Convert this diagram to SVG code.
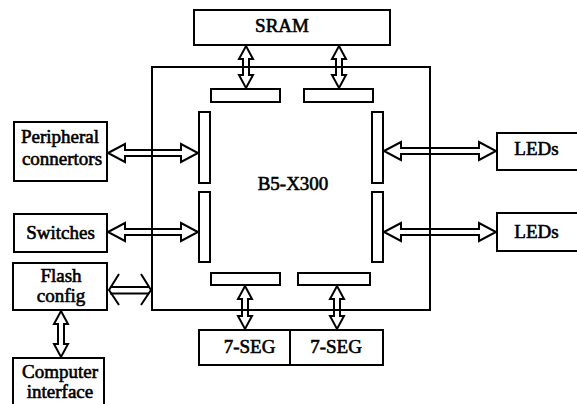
<svg xmlns="http://www.w3.org/2000/svg" width="577" height="404" viewBox="0 0 577 404">
<style>
.b{fill:none;stroke:#000;stroke-width:2}
.bar{fill:#fff;stroke:#000;stroke-width:2}
.a{fill:none;stroke:#000;stroke-width:2;stroke-linejoin:miter}
.t{font-family:"Liberation Serif","Times New Roman",serif;font-size:19px;fill:#000;stroke:#000;stroke-width:0.6;text-anchor:middle}
</style>
<rect width="577" height="404" fill="#fff"/>
<g id="connectors">
<polygon class="a" points="108,153 125,144 125,150 181,150 181,144 198,153 181,162 181,156 125,156 125,162"/>
<polygon class="a" points="108,232 125,223 125,229 181,229 181,223 198,232 181,241 181,235 125,235 125,241"/>
<polygon class="a" points="384,151 401,142 401,148 479,148 479,142 496,151 479,160 479,154 401,154 401,160"/>
<polygon class="a" points="384,232 401,223 401,229 479,229 479,223 496,232 479,241 479,235 401,235 401,241"/>
<polygon class="a" points="246,46 253,59 249,59 249,75 253,75 246,88 239,75 243,75 243,59 239,59"/>
<polygon class="a" points="339,46 346,59 342,59 342,75 346,75 339,88 332,75 336,75 336,59 332,59"/>
<polygon class="a" points="245,286 252,299 248,299 248,316 252,316 245,329 238,316 242,316 242,299 238,299"/>
<polygon class="a" points="337,286 344,299 340,299 340,316 344,316 337,329 330,316 334,316 334,299 330,299"/>
<polygon class="a" points="61,311 68,324 64,324 64,344 68,344 61,357 54,344 58,344 58,324 54,324"/>
<g class="a">
<line x1="110" y1="287" x2="149" y2="287"/>
<line x1="110" y1="293.5" x2="149" y2="293.5"/>
<polyline points="119,274 109,290 119,305"/>
<polyline points="141,274 151,290 141,305"/>
</g>
</g>
<g id="b5x300">
<rect class="b" x="152" y="67" width="278" height="243"/>
<rect class="bar" x="211" y="89" width="69" height="13"/>
<rect class="bar" x="304" y="89" width="69" height="13"/>
<rect class="bar" x="199" y="112" width="11" height="71"/>
<rect class="bar" x="199" y="192" width="11" height="70"/>
<rect class="bar" x="372" y="112" width="11" height="71"/>
<rect class="bar" x="372" y="192" width="11" height="70"/>
<rect class="bar" x="211" y="273" width="69" height="12"/>
<rect class="bar" x="298" y="273" width="72" height="12"/>
<text class="t" x="293" y="190">B5-X300</text>
</g>
<g id="sram">
<rect class="b" x="194" y="10" width="196" height="35"/>
<text class="t" x="282" y="32">SRAM</text>
</g>
<g id="peripheral">
<rect class="b" x="14" y="122" width="93" height="59"/>
<text class="t" x="60" y="143">Peripheral</text>
<text class="t" x="62" y="165">connertors</text>
</g>
<g id="switches">
<rect class="b" x="14" y="214" width="93" height="38"/>
<text class="t" x="60.5" y="239">Switches</text>
</g>
<g id="flash">
<rect class="b" x="13" y="263" width="94" height="47"/>
<text class="t" x="61" y="282">Flash</text>
<text class="t" x="61" y="302">config</text>
</g>
<g id="computer">
<rect class="b" x="13" y="358" width="91" height="50"/>
<text class="t" x="60" y="378">Computer</text>
<text class="t" x="60" y="398">interface</text>
</g>
<g id="leds1">
<rect class="b" x="497" y="133" width="85" height="37"/>
<text class="t" x="536.5" y="155">LEDs</text>
</g>
<g id="leds2">
<rect class="b" x="497" y="213" width="85" height="38"/>
<text class="t" x="536.5" y="238">LEDs</text>
</g>
<g id="seg1">
<rect class="b" x="199" y="330" width="91" height="35"/>
<text class="t" x="249.5" y="353">7-SEG</text>
</g>
<g id="seg2">
<rect class="b" x="290" y="330" width="93" height="35"/>
<text class="t" x="336" y="353">7-SEG</text>
</g>
</svg>
